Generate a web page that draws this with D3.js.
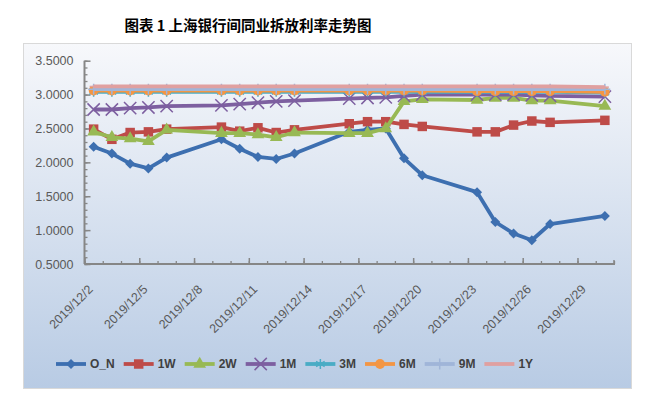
<!DOCTYPE html>
<html><head><meta charset="utf-8">
<script src="https://cdn.jsdelivr.net/npm/d3@7"></script>
<style>body{margin:0;background:#fff;}svg{display:block;}</style>
</head><body>
<svg id="c" width="653" height="398"></svg>
<script>
const title = "图表 1 上海银行间同业拆放利率走势图";
const dates = ["2019/12/2","2019/12/3","2019/12/4","2019/12/5","2019/12/6",
  "2019/12/9","2019/12/10","2019/12/11","2019/12/12","2019/12/13",
  "2019/12/16","2019/12/17","2019/12/18","2019/12/19","2019/12/20",
  "2019/12/23","2019/12/24","2019/12/25","2019/12/26","2019/12/27",
  "2019/12/30"];
const xTickLabels = ["2019/12/2","2019/12/5","2019/12/8","2019/12/11","2019/12/14",
  "2019/12/17","2019/12/20","2019/12/23","2019/12/26","2019/12/29"];
const yTicks = [0.5,1.0,1.5,2.0,2.5,3.0,3.5];
const seriesNames = ["O_N","1W","2W","1M","3M","6M","9M","1Y"];
const ON  = [2.23,2.13,1.98,1.91,2.07, 2.34,2.20,2.08,2.05,2.13, 2.45,2.48,2.50,2.06,1.81, 1.56,1.12,0.95,0.85,1.09, 1.21];
const W1  = [2.49,2.34,2.44,2.45,2.49, 2.52,2.46,2.51,2.44,2.48, 2.57,2.60,2.60,2.56,2.53, 2.45,2.45,2.55,2.61,2.59, 2.62];
const W2  = [2.45,2.37,2.35,2.31,2.48, 2.43,2.43,2.41,2.37,2.44, 2.43,2.43,2.50,2.90,2.93, 2.92,2.95,2.95,2.91,2.91, 2.83];
const M1  = [2.78,2.78,2.80,2.81,2.83, 2.84,2.86,2.88,2.90,2.91, 2.94,2.95,2.96,2.98,3.00, 3.00,3.00,3.00,2.99,2.98, 2.97];
const M3  = [3.04,3.04,3.04,3.04,3.04, 3.04,3.04,3.04,3.04,3.04, 3.04,3.04,3.04,3.04,3.04, 3.04,3.04,3.04,3.04,3.04, 3.03];
const M6  = [3.06,3.06,3.06,3.06,3.06, 3.06,3.06,3.06,3.06,3.06, 3.06,3.06,3.06,3.06,3.06, 3.05,3.05,3.05,3.05,3.05, 3.04];
const M9  = [3.08,3.08,3.08,3.08,3.08, 3.08,3.08,3.08,3.08,3.08, 3.08,3.08,3.08,3.08,3.08, 3.08,3.08,3.08,3.08,3.08, 3.08];
const Y1  = [3.12,3.12,3.12,3.12,3.12, 3.12,3.12,3.12,3.12,3.12, 3.12,3.12,3.12,3.12,3.12, 3.12,3.12,3.12,3.12,3.12, 3.11];
const seriesValues = [ON,W1,W2,M1,M3,M6,M9,Y1];

const colors = ["#3D6FB0","#BE4B48","#98B954","#7D5FA0","#4AACC5","#F39644","#A0B5D8","#E0A0A0"];
const parse = d3.timeParse("%Y/%m/%d");
const svg = d3.select("#c");
const defs = svg.append("defs");
const g = defs.append("linearGradient").attr("id","bg").attr("x1",0).attr("y1",0).attr("x2",0).attr("y2",1);
g.append("stop").attr("offset","0%").attr("stop-color","#f7f8fb");
g.append("stop").attr("offset","100%").attr("stop-color","#b8cbe4");

svg.append("rect").attr("x",23.5).attr("y",43.5).attr("width",608).attr("height",345)
  .attr("fill","url(#bg)").attr("stroke","#d9d9d9").attr("stroke-width",1);

svg.append("text").attr("x",248).attr("y",31).attr("text-anchor","middle")
  .attr("font-family","'Noto Sans CJK SC'").attr("font-weight","bold").attr("font-size",14.5)
  .attr("fill","#000").text(title);

const x0 = 84.5, x1 = 614, yTop = 60.7, yBot = 264;
const start = parse("2019/12/2"), end = d3.timeDay.offset(parse("2019/12/30"),1);
const x = d3.scaleTime().domain([start,end]).range([x0,x1]);
const y = d3.scaleLinear().domain([0.5,3.5]).range([yBot,yTop]);
const mid = s => d3.timeHour.offset(parse(s),12);

const axisColor = "#868686";
// Y axis
const ya = svg.append("g").attr("transform",`translate(${x0},0)`);
ya.call(d3.axisRight(y).tickValues(d3.range(0.5,3.5001,0.1)).tickSize(3).tickFormat(""));
ya.call(g2=>g2.selectAll(".tick line").attr("stroke",axisColor).attr("stroke-width",1.3));
ya.select(".domain").remove();
const yb = svg.append("g").attr("transform",`translate(${x0},0)`);
yb.call(d3.axisRight(y).tickValues(yTicks).tickSize(6).tickFormat(""));
yb.selectAll(".tick line").attr("stroke",axisColor).attr("stroke-width",1.5);
yb.select(".domain").remove();
svg.append("line").attr("x1",x0).attr("x2",x0).attr("y1",yTop).attr("y2",yBot).attr("stroke",axisColor).attr("stroke-width",2);
svg.append("g").selectAll("text").data(yTicks).join("text")
  .attr("x",73.5).attr("y",d=>y(d)).attr("dy","0.36em").attr("text-anchor","end")
  .attr("font-family","'Liberation Sans',Arial").attr("font-size",12.5).attr("fill","#595959")
  .text(d=>d3.format(".4f")(d));

// X axis
const xa = svg.append("g").attr("transform",`translate(0,${yBot})`);
xa.call(d3.axisTop(x).ticks(d3.timeDay.every(1)).tickSize(3).tickFormat(""));
xa.selectAll(".tick line").attr("stroke",axisColor).attr("stroke-width",1.3);
xa.select(".domain").remove();
const majors = d3.timeDay.range(start, d3.timeDay.offset(end,1), 3);
const xb = svg.append("g").attr("transform",`translate(0,${yBot})`);
xb.call(d3.axisTop(x).tickValues(majors).tickSize(6).tickFormat(""));
xb.selectAll(".tick line").attr("stroke",axisColor).attr("stroke-width",1.5);
xb.select(".domain").remove();
svg.append("line").attr("x1",x0).attr("x2",x1+1).attr("y1",yBot).attr("y2",yBot).attr("stroke",axisColor).attr("stroke-width",2);
svg.append("line").attr("x1",x1).attr("x2",x1).attr("y1",yBot).attr("y2",yBot-4).attr("stroke",axisColor).attr("stroke-width",1.5);
svg.append("g").selectAll("text").data(xTickLabels).join("text")
  .attr("transform",d=>`translate(${x(mid(d))-3},${yBot+23}) rotate(-45)`)
  .attr("text-anchor","end").attr("dy","0.35em")
  .attr("font-family","'Liberation Sans',Arial").attr("font-size",12.5).attr("fill","#595959")
  .text(d=>d);

// markers
const markerDefs = [
  {type:d3.symbolSquare,size:50,rot:45,fill:true},
  {type:d3.symbolSquare,size:90,rot:0,fill:true},
  {type:d3.symbolTriangle,size:70,rot:0,fill:true},
  {type:d3.symbolTimes,size:100,rot:0,fill:false},
  {type:d3.symbolAsterisk,size:70,rot:0,fill:false},
  {type:d3.symbolCircle,size:75,rot:0,fill:true},
  {type:d3.symbolPlus,size:40,rot:0,fill:false},
  {type:"dash",size:0,rot:0,fill:false}
];
function drawMarker(sel, i, cx, cy, scale){
  const m = markerDefs[i];
  if(m.type==="dash"){
    sel.append("line").attr("x1",cx-4*scale).attr("x2",cx+4*scale).attr("y1",cy).attr("y2",cy)
      .attr("stroke",colors[i]).attr("stroke-width",1.5);
    return;
  }
  const p = sel.append("path").attr("d",d3.symbol().type(m.type).size(m.size*scale*scale)())
    .attr("transform",`translate(${cx},${cy}) rotate(${m.rot})`);
  if(m.fill) p.attr("fill",colors[i]).attr("stroke","none");
  else p.attr("fill","none").attr("stroke",colors[i]).attr("stroke-width",1.5);
}

const line = d3.line().x(d=>x(mid(d.date))).y(d=>y(d.v));
const plot = svg.append("g");
seriesValues.forEach((vals,i)=>{
  const data = dates.map((d,k)=>({date:d,v:vals[k]}));
  const gg = plot.append("g");
  gg.append("path").datum(data).attr("d",line).attr("fill","none")
    .attr("stroke",colors[i]).attr("stroke-width",3.8).attr("stroke-linejoin","round");
  data.forEach(d=>drawMarker(gg,i,x(mid(d.date)),y(d.v),1));
});

// legend
const leg = svg.append("g");
let lx = 56;
const ly = 364;
seriesNames.forEach((n,i)=>{
  leg.append("line").attr("x1",lx).attr("x2",lx+30).attr("y1",ly).attr("y2",ly)
    .attr("stroke",colors[i]).attr("stroke-width",3.8);
  drawMarker(leg,i,lx+15,ly,1);
  const t = leg.append("text").attr("x",lx+34).attr("y",ly).attr("dy","0.36em")
    .attr("font-family","'Liberation Sans',Arial").attr("font-weight","bold").attr("font-size",12)
    .attr("fill","#404040").text(n);
  lx = lx + 34 + t.node().getComputedTextLength() + 9;
});
</script>
</body></html>
